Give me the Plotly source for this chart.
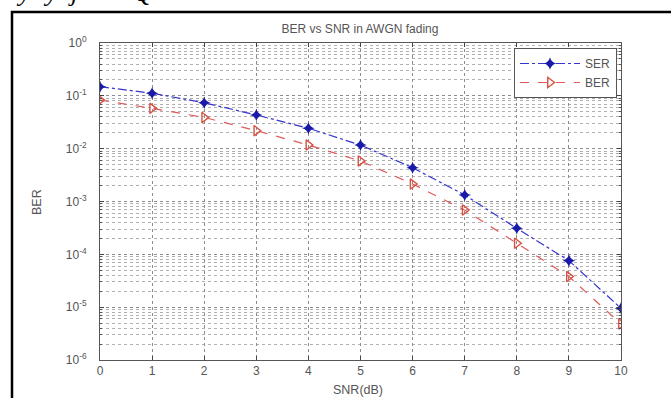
import plotly.graph_objects as go

snr = [0, 1, 2, 3, 4, 5, 6, 7, 8, 9, 10]
ser = [0.149, 0.112, 0.074, 0.0434, 0.0243, 0.0117, 0.00436, 0.00133, 3.1e-4, 7.6e-5, 9.5e-6]
ber = [0.083, 0.058, 0.039, 0.0219, 0.0117, 0.00585, 0.00214, 0.00069, 1.62e-4, 3.8e-5, 4.8e-6]
ytick_vals = [1e0, 1e-1, 1e-2, 1e-3, 1e-4, 1e-5, 1e-6]
ytick_text = ["10<sup>0</sup>", "10<sup>-1</sup>", "10<sup>-2</sup>", "10<sup>-3</sup>",
              "10<sup>-4</sup>", "10<sup>-5</sup>", "10<sup>-6</sup>"]

W, H = 671, 398
L, R, T, B = 100, 50, 43, 38
pw, ph = W - L - R, H - T - B

def px(x):
    return (x - L) / pw

def py(y):
    return 1 - (y - T) / ph

font = "Liberation Sans, Arial, sans-serif"
txtc = "#555555"

fig = go.Figure()
fig.add_trace(go.Scatter(
    x=snr, y=ser, name="SER", mode="lines+markers",
    line=dict(color="#3434d0", dash="dashdot", width=1.2),
    marker=dict(symbol="star-diamond", size=9, color="#1a1aa8"),
))
fig.add_trace(go.Scatter(
    x=snr, y=ber, name="BER", mode="lines+markers",
    line=dict(color="#e05a5a", dash="dash", width=1.2),
    marker=dict(symbol="triangle-right-open", size=9, color="#d85040", line=dict(width=1.4)),
))

grid = dict(showgrid=True, gridcolor="#8c8c8c", griddash="dot", gridwidth=1)
fig.update_xaxes(
    range=[0, 10], dtick=1, tick0=0, ticks="inside", ticklen=4,
    showline=True, linecolor="#555555", linewidth=1, mirror="allticks",
    tickfont=dict(family=font, size=12, color=txtc), zeroline=False,
    ticklabelstandoff=0, **grid,
)
fig.update_yaxes(
    type="log", range=[-6, 0], tickvals=ytick_vals, ticktext=ytick_text,
    ticks="inside", ticklen=4,
    showline=True, linecolor="#555555", linewidth=1, mirror="allticks",
    tickfont=dict(family=font, size=12, color=txtc), zeroline=False,
    ticklabelstandoff=10,
    minor=dict(dtick="D1", ticks="inside", ticklen=2, showgrid=True, gridcolor="#b0b0b0",
               griddash="dot", gridwidth=1, tickcolor="#555555"),
    **grid,
)

fig.update_layout(
    width=W, height=H,
    margin=dict(l=L, r=R, t=T, b=B),
    paper_bgcolor="white", plot_bgcolor="white",
    showlegend=True,
    legend=dict(x=px(617), y=py(48), xanchor="right", yanchor="top",
                bgcolor="white", bordercolor="#555555", borderwidth=1,
                font=dict(family=font, size=12, color=txtc),
                tracegroupgap=0, itemwidth=60),
    title=dict(text="BER vs SNR in AWGN fading", xref="paper", x=px(360), xanchor="center",
               y=1 - 29 / H, yanchor="middle",
               font=dict(family=font, size=12, color=txtc)),
    annotations=[
        dict(text="BER", x=px(37), y=py(202), xref="paper", yref="paper",
             xanchor="center", yanchor="middle",
             textangle=-90, showarrow=False,
             font=dict(family=font, size=12.5, color=txtc)),
        dict(text="SNR(dB)", x=px(358), y=py(390), xref="paper", yref="paper",
             xanchor="center", yanchor="middle",
             showarrow=False, font=dict(family=font, size=12.5, color=txtc)),
    ],
    shapes=[
        dict(type="rect", xref="paper", yref="paper",
             x0=px(12), x1=px(700), y0=py(430), y1=py(12),
             line=dict(color="black", width=2.5), fillcolor="rgba(0,0,0,0)"),
    ],
)

# Fragments of the document text line above the figure (descenders only)
for ch, xx in [("y", 14), ("y", 41), ("j", 66), ("Q", 131)]:
    fig.add_annotation(text="<i>" + ch + "</i>", x=px(xx), y=py(-8), xref="paper", yref="paper",
                       showarrow=False, yanchor="middle",
                       font=dict(family="Liberation Serif, serif", size=26, color="black"))

fig.write_html("out.html", config={"displayModeBar": False},
               post_script="document.body.style.margin='0';document.body.style.overflow='hidden';")
